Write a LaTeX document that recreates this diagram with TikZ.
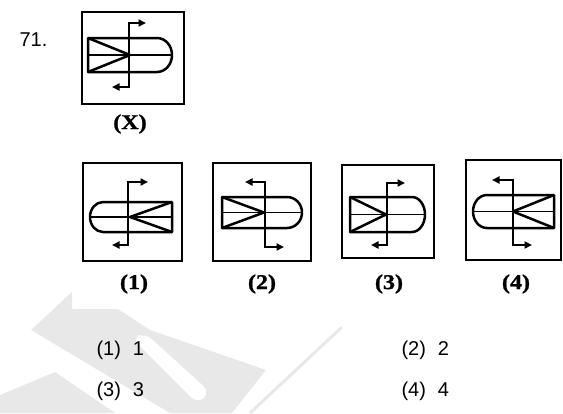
\documentclass[tikz,border=0pt]{standalone}
\usepackage{fontspec}
\setmainfont{Liberation Serif}
\newfontfamily\optfont{Liberation Sans}
\newfontfamily\labfont[FakeStretch=1.15,FakeBold=1.2]{Liberation Serif Bold}
\usetikzlibrary{arrows.meta}
\begin{document}
\begin{tikzpicture}[x=1pt,y=-1pt,
  frame/.style={line width=2.9pt},
  fig/.style={line width=2.5pt, line join=round},
  midline/.style={line width=1.8pt},
  arr/.style={line width=2.3pt, line join=miter, -{Triangle[length=7.5pt,width=7pt]}},
  lab/.style={font=\labfont\fontsize{21}{21}\selectfont},
  opt/.style={font=\optfont\fontsize{20}{20}\selectfont, anchor=west},
  wm/.style={fill=black!9}]
\useasboundingbox (0,0) rectangle (563,413);
% faint watermark
\fill[wm] (31,330) -- (72,292) -- (72,309) -- (118,309) -- (150,330) -- (266,370) -- (232,413) -- (170,413) -- cycle;
\fill[white, rounded corners=9] (132,338) -- (145,333) -- (210,392) -- (198,404) -- cycle;
\fill[wm] (0,395) -- (55,372) -- (115,413) -- (0,413) -- cycle;
\draw[black!9, line width=3pt] (342,327) -- (250,413);
% question number
\node[opt] (q) at (16,40) {71.};
% figure X
\draw[frame] (82,12) rectangle (184,104);
\draw[fig] (88,38) -- (157,38) arc(-90:90:15 and 17) -- (88,72) -- cycle;
\draw[midline] (88,55) -- (172,55);
\draw[fig] (88,38) -- (130,55) -- (88,72);
\draw[arr] (129,55) -- (129,23) -- (146,23);
\draw[arr] (129,55) -- (129,87) -- (112,87);
\node[lab] (lx) at (130,124) {(X)};
% figure 1
\draw[frame] (83,163) rectangle (182,261);
\draw[fig] (172,202) -- (103,202) arc(-90:-270:13 and 15) -- (172,232) -- cycle;
\draw[midline] (90,217) -- (172,217);
\draw[fig] (172,202) -- (130,217) -- (172,232);
\draw[arr] (128,217) -- (128,182) -- (148,182);
\draw[arr] (128,217) -- (128,245) -- (112,245);
\node[lab] (l1) at (134,284) {(1)};
% figure 2
\draw[frame] (213,163) rectangle (311,261);
\draw[fig] (222,197) -- (287,197) arc(-90:90:15 and 15.5) -- (222,228) -- cycle;
\draw[midline] (222,212.5) -- (302,212.5);
\draw[fig] (222,197) -- (264,212.5) -- (222,228);
\draw[arr] (265,212) -- (265,182) -- (245,182);
\draw[arr] (265,212) -- (265,247) -- (284,247);
\node[lab] (l2) at (262,284) {(2)};
% figure 3
\draw[frame] (342,165) rectangle (434,258);
\draw[fig] (350,197) -- (412,197) arc(-90:90:13 and 17.5) -- (350,232) -- cycle;
\draw[midline] (350,214.5) -- (425,214.5);
\draw[fig] (350,197) -- (386,214.5) -- (350,232);
\draw[arr] (387,214) -- (387,183) -- (405,183);
\draw[arr] (387,214) -- (387,245) -- (371,245);
\node[lab] (l3) at (389,284) {(3)};
% figure 4
\draw[frame] (466,160) rectangle (561,260);
\draw[fig] (554,195) -- (487,195) arc(-90:-270:14 and 16.5) -- (554,228) -- cycle;
\draw[midline] (473,211.5) -- (554,211.5);
\draw[fig] (554,195) -- (513,211.5) -- (554,228);
\draw[arr] (513,211) -- (513,180) -- (492,180);
\draw[arr] (513,211) -- (513,245) -- (532,245);
\node[lab] (l4) at (516,284) {(4)};
% options
\node[opt] (o1) at (93,350) {(1)\hspace{0.6em}1};
\node[opt] (o2) at (398,350) {(2)\hspace{0.6em}2};
\node[opt] (o3) at (93,391) {(3)\hspace{0.6em}3};
\node[opt] (o4) at (398,391) {(4)\hspace{0.6em}4};
\end{tikzpicture}
\end{document}
